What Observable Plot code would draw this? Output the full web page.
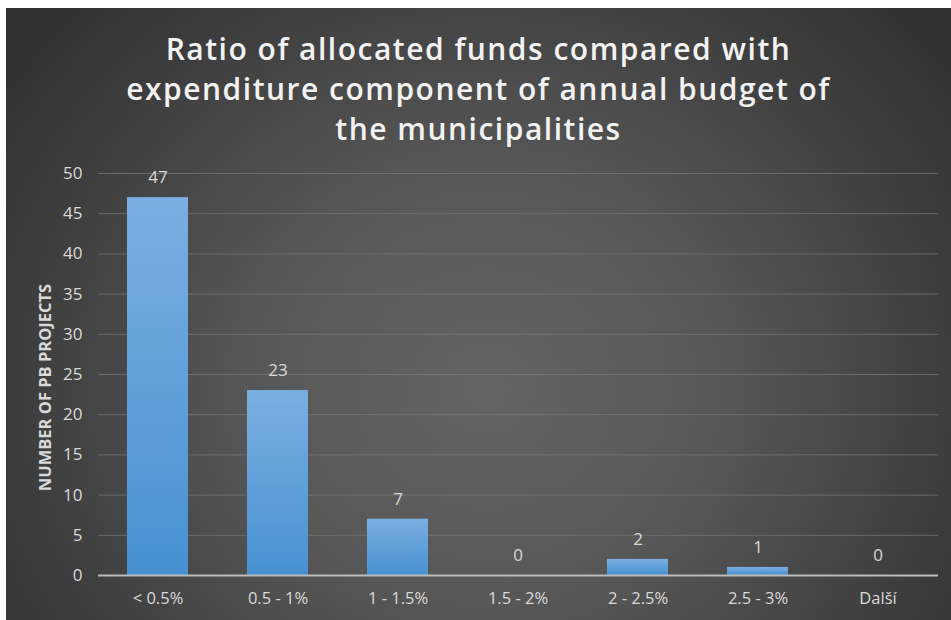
<!DOCTYPE html>
<html>
<head>
<meta charset="utf-8">
<script src="https://cdn.jsdelivr.net/npm/d3@7"></script>
<script src="https://cdn.jsdelivr.net/npm/@observablehq/plot@0.6"></script>
<style>
  html, body { margin: 0; padding: 0; background: #ffffff; }
  #frame {
    position: absolute; left: 6px; top: 8px; width: 945px; height: 612px;
    background: radial-gradient(ellipse 580px 540px at 480px 380px, #646464 0%, #575757 40%, #3c3c3c 82%, #323232 100%);
    overflow: hidden;
    font-family: "Open Sans", sans-serif;
  }
  #title {
    height: 150px; box-sizing: border-box; padding-top: 21px;
    text-align: center; color: #f2f2f2; font-size: 30px; font-weight: 600;
    line-height: 40px; letter-spacing: 1.5px;
  }
  #chart svg { display: block; }
</style>
</head>
<body>
<div id="frame">
  <div id="title">Ratio of allocated funds compared with<br>expenditure component of annual budget of<br>the municipalities</div>
  <div id="chart"></div>
</div>
<script>
const categories = ["< 0.5%", "0.5 - 1%", "1 - 1.5%", "1.5 - 2%", "2 - 2.5%", "2.5 - 3%", "Další"];
const counts = [47, 23, 7, 0, 2, 1, 0];
const yTicks = [0, 5, 10, 15, 20, 25, 30, 35, 40, 45, 50];
const yLabel = "NUMBER OF PB PROJECTS";

const data = categories.map((c, i) => ({category: c, value: counts[i]}));

const defs = () => {
  const d = d3.create("svg:defs");
  const g = d.append("linearGradient").attr("id", "barGrad").attr("x1", 0).attr("y1", 0).attr("x2", 0).attr("y2", 1);
  g.append("stop").attr("offset", "0%").attr("stop-color", "#7aafe2");
  g.append("stop").attr("offset", "100%").attr("stop-color", "#4791d1");
  const f = d.append("filter").attr("id", "shadow").attr("x", "-20%").attr("y", "-20%").attr("width", "140%").attr("height", "140%");
  f.append("feDropShadow").attr("dx", 1.5).attr("dy", 1.5).attr("stdDeviation", 1.5).attr("flood-color", "#000").attr("flood-opacity", 0.35);
  return d.node();
};

const chart = Plot.plot({
  width: 945,
  height: 462,
  marginTop: 15,
  marginBottom: 45,
  marginLeft: 92,
  marginRight: 13,
  style: {background: "transparent", fontFamily: "Open Sans, sans-serif", fontSize: "16px", color: "#d9d9d9"},
  x: {domain: categories, paddingInner: 0.49, paddingOuter: 0.245, label: null},
  y: {domain: [0, 50], ticks: yTicks, label: null},
  marks: [
    defs,
    Plot.gridY(yTicks.filter(t => t > 0), {stroke: "#7a7a7a", strokeOpacity: 0.7, strokeWidth: 1}),
    Plot.barY(data, {x: "category", y: "value", fill: "url(#barGrad)", filter: d => d.value > 0, style: "filter:url(#shadow)"}),
    Plot.ruleY([0], {stroke: "#bcbcbc", strokeWidth: 2}),
    Plot.text(data, {x: "category", y: "value", text: d => String(d.value), dy: -20, fill: "#d9d9d9", fontSize: 17}),
    Plot.axisX({tickSize: 0, tickPadding: 17, fill: "#d9d9d9", fontSize: 16.5, label: null}),
    Plot.axisY({ticks: yTicks, tickSize: 0, tickPadding: 16, fill: "#d9d9d9", fontSize: 17, label: null}),
    Plot.text([yLabel], {frameAnchor: "left", textAnchor: "middle", rotate: -90, dx: -53, dy: 13, fill: "#d9d9d9", fontSize: 16.5, fontWeight: "bold"})
  ]
});
document.getElementById("chart").appendChild(chart);
</script>
</body>
</html>
